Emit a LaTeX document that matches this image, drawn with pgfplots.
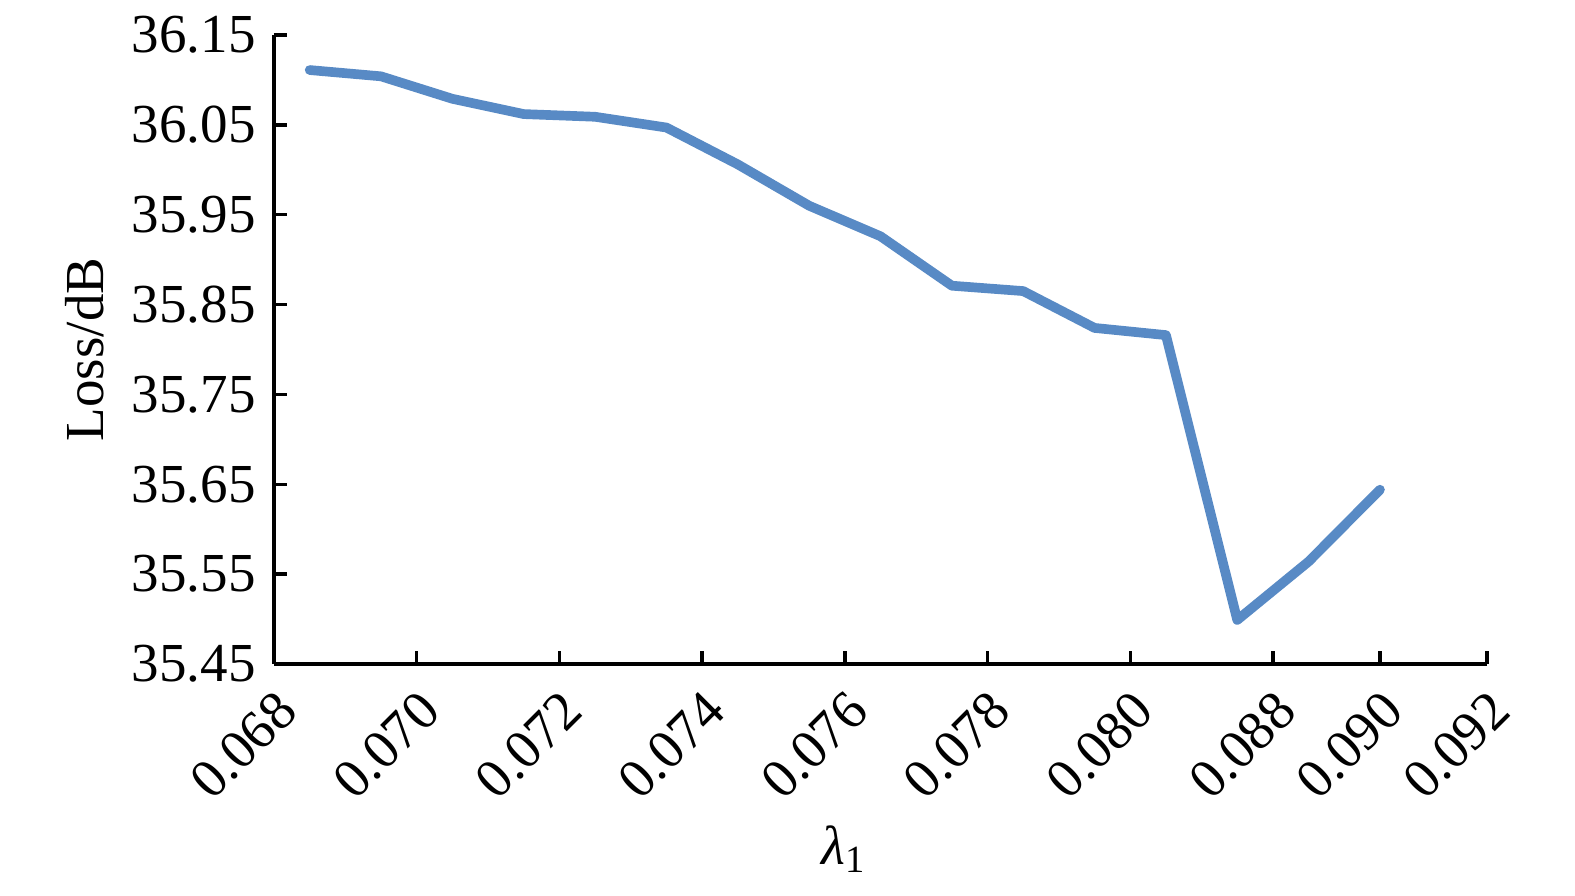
\documentclass[border=0pt]{standalone}
\usepackage{fontspec}
\setmainfont{Liberation Serif}
\usepackage{pgfplots}
\pgfplotsset{compat=1.18}

\definecolor{lossblue}{RGB}{88,138,197}

\begin{document}
\begin{tikzpicture}
  \begin{axis}[
      scale only axis,
      width=363.9pt,
      height=188.7pt,
      axis x line=bottom,
      axis y line=left,
      axis line style={-, line width=1.1pt},
      tick align=inside,
      major tick length=4pt,
      every tick/.style={black, line width=1.0pt},
      xmin=0, xmax=17,
      ymin=35.45, ymax=36.15,
      xtick={0,2,4,6,8,10,12,14,15.5,17},
      xticklabels={0.068,0.070,0.072,0.074,0.076,0.078,0.080,0.088,0.090,0.092},
      ytick={35.45,35.55,35.65,35.75,35.85,35.95,36.05,36.15},
      yticklabel style={/pgf/number format/fixed,
        /pgf/number format/fixed zerofill,
        /pgf/number format/precision=2,
        /pgf/number format/assume math mode=true},
      every tick label/.append style={font=\fontsize{16.5}{19}\selectfont},
      x tick label style={rotate=45, anchor=north east, inner sep=1pt, xshift=-4pt, yshift=-4pt},
      y tick label style={xshift=-2pt},
      xlabel={\textit{λ}\textsubscript{1}},
      ylabel={Loss/dB},
      label style={font=\fontsize{16.5}{19}\selectfont},
      xlabel style={at={(axis description cs:0.47,0)}, anchor=center, yshift=-55.5pt},
      ylabel style={at={(axis description cs:0,0.5)}, anchor=center, yshift=56.7pt},
      clip=false,
    ]
    \addplot[lossblue, line width=2.9pt, line join=round, line cap=round] coordinates {
      (0.5,36.111) (1.5,36.104) (2.5,36.079) (3.5,36.062)
      (4.5,36.059) (5.5,36.047) (6.5,36.006) (7.5,35.960)
      (8.5,35.926) (9.5,35.871) (10.5,35.865) (11.5,35.824)
      (12.5,35.816) (13.5,35.499) (14.5,35.564) (15.5,35.644)
    };
  \end{axis}
  \pgfresetboundingbox
  \path[use as bounding box] ([xshift=-82.2pt,yshift=-69.6pt]current axis.south west)
    rectangle ([xshift=26.4pt,yshift=10.5pt]current axis.north east);
\end{tikzpicture}
\end{document}
